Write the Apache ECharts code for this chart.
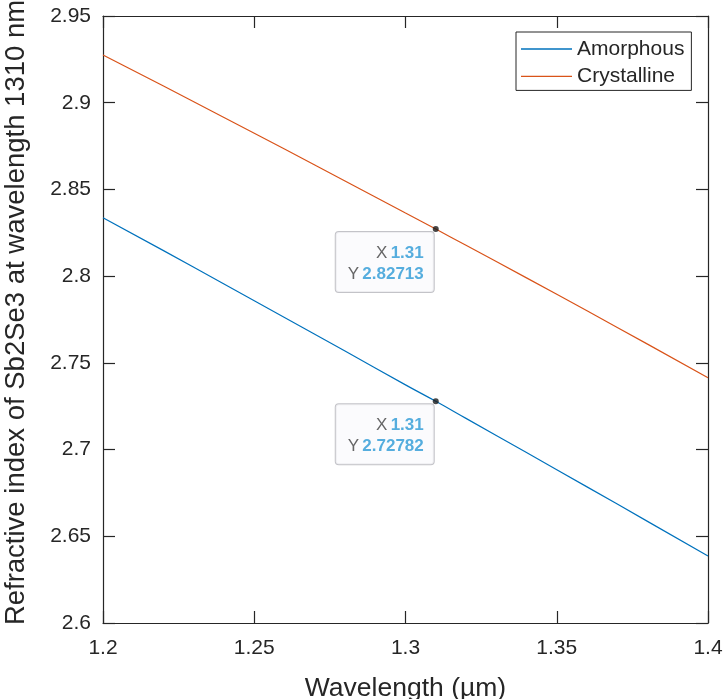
<!DOCTYPE html>
<html>
<head>
<meta charset="utf-8">
<script src="https://cdn.jsdelivr.net/npm/echarts@6/dist/echarts.min.js"></script>
<style>
  html, body { margin: 0; padding: 0; background: #ffffff; }
  #chart { width: 727px; height: 699px; }
</style>
</head>
<body>
<div id="chart"></div>
<script>
// Wavelength samples (µm)
const wavelengths = [1.20, 1.22, 1.24, 1.26, 1.28, 1.30, 1.31, 1.32, 1.34, 1.36, 1.38, 1.40];
// Refractive index of Sb2Se3, amorphous phase
const amorphous = [2.8337, 2.8147, 2.7955, 2.7762, 2.7568, 2.7373, 2.72782, 2.7180, 2.6983, 2.6785, 2.6586, 2.6386];
// Refractive index of Sb2Se3, crystalline phase
const crystalline = [2.9275, 2.9096, 2.8915, 2.8733, 2.8549, 2.8364, 2.82713, 2.8178, 2.7990, 2.7800, 2.7608, 2.7414];
// Data tips at the 1310 nm operating wavelength
const tipX = 1.31;
const tipAmorphous = 2.72782;
const tipCrystalline = 2.82713;
// Axis ticks
const xTicks = [1.2, 1.25, 1.3, 1.35, 1.4];
const yTicks = [2.6, 2.65, 2.7, 2.75, 2.8, 2.85, 2.9, 2.95];

const textColor = '#262626';
const font = '"Liberation Sans", Arial, Helvetica, sans-serif';

const pairs = (xs, ys) => xs.map((x, i) => [x, ys[i]]);
const fmt = v => String(+v.toFixed(4));

const mirrorAxis = {
  axisLine: { show: true, lineStyle: { color: textColor, width: 1.2 } },
  axisTick: { show: true, inside: true, length: 12, lineStyle: { color: textColor, width: 1.2 } },
  axisLabel: { show: false },
  splitLine: { show: false }
};

function tipLabel() {
  return {
    show: true,
    position: [1, 6],
    align: 'right',
    verticalAlign: 'top',
    width: 78,
    formatter: p => '{k|X} {v|' + fmt(p.value[0]) + '}\n{k|Y} {v|' + p.value[1] + '}',
    backgroundColor: 'rgba(250,250,252,0.97)',
    borderColor: '#b4b4ba',
    borderWidth: 1,
    borderRadius: 3,
    padding: [10, 10, 7, 10],
    lineHeight: 21.5,
    rich: {
      k: { color: '#404040', fontSize: 17, fontFamily: font, lineHeight: 21.5 },
      v: { color: '#2c9ad6', fontSize: 17, fontWeight: 'bold', fontFamily: font, lineHeight: 21.5 }
    }
  };
}

const chart = echarts.init(document.getElementById('chart'), null, { renderer: 'canvas' });
chart.setOption({
  animation: false,
  backgroundColor: '#ffffff',
  textStyle: { fontFamily: font },
  grid: { left: 103, right: 19, top: 16, bottom: 76, containLabel: false, outerBoundsMode: 'none' },
  legend: {
    orient: 'vertical',
    left: 516,
    top: 32,
    data: [
      { name: 'Amorphous', icon: 'rect' },
      { name: 'Crystalline', icon: 'rect' }
    ],
    itemWidth: 51,
    itemHeight: 1.3,
    itemGap: 3.4,
    padding: [5, 7, 2, 5],
    backgroundColor: '#ffffff',
    borderColor: textColor,
    borderWidth: 1,
    borderRadius: 0,
    textStyle: { color: textColor, fontSize: 21, lineHeight: 24, fontFamily: font }
  },
  xAxis: [
    {
      type: 'value',
      min: xTicks[0],
      max: xTicks[xTicks.length - 1],
      interval: 0.05,
      name: 'Wavelength (µm)',
      nameLocation: 'middle',
      nameGap: 52,
      nameTextStyle: { color: textColor, fontSize: 26.5, fontFamily: font },
      axisLine: { show: true, lineStyle: { color: textColor, width: 1.2 } },
      axisTick: { show: true, inside: true, length: 12, lineStyle: { color: textColor, width: 1.2 } },
      axisLabel: { color: textColor, fontSize: 21, margin: 15, formatter: v => fmt(v) },
      splitLine: { show: false }
    },
    Object.assign({ type: 'value', position: 'top', min: xTicks[0], max: xTicks[xTicks.length - 1], interval: 0.05 }, mirrorAxis)
  ],
  yAxis: [
    {
      type: 'value',
      min: yTicks[0],
      max: yTicks[yTicks.length - 1],
      interval: 0.05,
      name: 'Refractive index of Sb2Se3 at wavelength 1310 nm',
      nameLocation: 'middle',
      nameGap: 73,
      nameTextStyle: { color: textColor, fontSize: 27.5, fontFamily: font, padding: [0, 0, 0, 14] },
      axisLine: { show: true, lineStyle: { color: textColor, width: 1.2 } },
      axisTick: { show: true, inside: true, length: 12, lineStyle: { color: textColor, width: 1.2 } },
      axisLabel: { color: textColor, fontSize: 21, margin: 12, formatter: v => fmt(v) },
      splitLine: { show: false }
    },
    Object.assign({ type: 'value', position: 'right', min: yTicks[0], max: yTicks[yTicks.length - 1], interval: 0.05 }, mirrorAxis)
  ],
  series: [
    {
      name: 'Amorphous',
      type: 'line',
      data: pairs(wavelengths, amorphous),
      smooth: true,
      symbol: 'none',
      showSymbol: false,
      color: '#0072BD',
      lineStyle: { color: '#0072BD', width: 1.2 },
      z: 2
    },
    {
      name: 'Crystalline',
      type: 'line',
      data: pairs(wavelengths, crystalline),
      smooth: true,
      symbol: 'none',
      showSymbol: false,
      color: '#D95319',
      lineStyle: { color: '#D95319', width: 1.2 },
      z: 2
    },
    {
      name: 'tips',
      type: 'scatter',
      symbol: 'circle',
      symbolSize: 6,
      itemStyle: { color: '#1a1a1a' },
      data: [[tipX, tipCrystalline], [tipX, tipAmorphous]],
      label: tipLabel(),
      z: 5
    }
  ]
});
</script>
</body>
</html>
